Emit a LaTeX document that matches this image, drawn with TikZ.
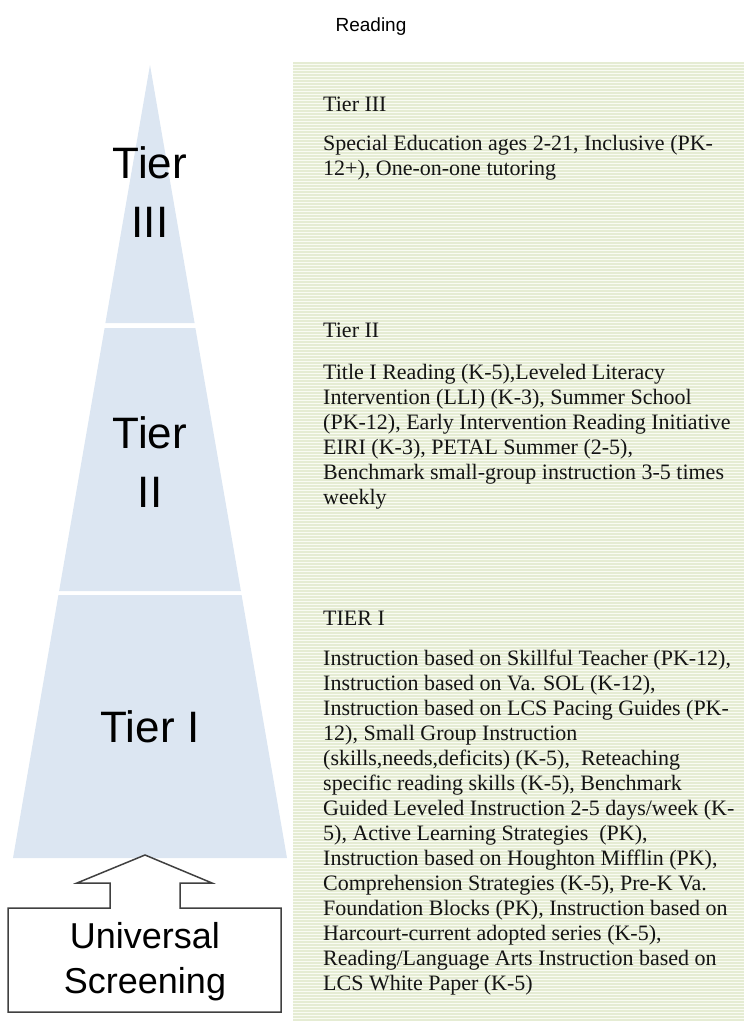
\documentclass[tikz,border=0pt]{standalone}
\usepackage{fontspec}
\setmainfont{Liberation Serif}
\setsansfont{Liberation Sans}
\usetikzlibrary{positioning}
\definecolor{pyrblue}{HTML}{DCE6F2}
\definecolor{panelgreen}{HTML}{F9FBF3}
\definecolor{panelline}{HTML}{E5ECD3}
\definecolor{boxgray}{HTML}{404040}
\tikzset{
	tiertext/.style={font=\sffamily\fontsize{44}{59}\selectfont, align=center}
}
\tikzset{
	listtext/.style={font=\rmfamily\fontsize{22}{25}\selectfont, align=left, anchor=base west, inner sep=0pt, text=black!92}
}
\tikzset{
	pyrpiece/.style={fill=pyrblue, draw=none}
}

\begin{document}
\begin{tikzpicture}[x=1pt, y=-1pt]

			\useasboundingbox (0,0) rectangle (744,1021);

			\begin{scope}
				\fill[panelgreen] (293,62) rectangle (744,1021);
				\foreach \y in {63,66,...,1020} {
						\draw[panelline, line width=1.2pt] (293,\y) -- (744,\y);
					}
			\end{scope}

			\node[font=\sffamily\fontsize{19}{23}\selectfont] (head) at (371,27) {Reading};

			\begin{scope}
				\coordinate (apex) at (150,65);
				\fill[pyrpiece] (apex) -- (194.6,323) -- (105.4,323) -- cycle;
				\fill[pyrpiece] (104.6,328) -- (195.4,328) -- (240.9,591) -- (59.1,591) -- cycle;
				\fill[pyrpiece] (58.4,595) -- (241.6,595) -- (287,858) -- (13,858) -- cycle;

				\node[tiertext] (t3) at (150,192) {Tier\\III};
				\node[tiertext] (t2) at (150,462) {Tier\\II};
				\node[tiertext] (t1) at (150,727) {Tier I};
			\end{scope}

			\draw[boxgray, fill=white, line width=1.5pt, line join=miter]
			(8,908) -- (110,908) -- (110,883) -- (77,883) -- (145,855) --
			(212,883) -- (180,883) -- (180,908) -- (281,908) --
			(281,1012) -- (8,1012) -- cycle;
			\node[font=\sffamily\fontsize{36}{45}\selectfont, align=center] (scr) at (145,962) {Universal\\Screening};

			\begin{scope}
				\node[listtext] (h3) at (323,111) {Tier III};
				\node[listtext] (b3) at (323,175) {Special Education ages 2-21, Inclusive (PK-\\12+), One-on-one tutoring};

				\node[listtext] (h2) at (323,337) {Tier II};
				\node[listtext] (b2) at (323,504) {Title I Reading (K-5),Leveled Literacy\\Intervention (LLI) (K-3), Summer School\\(PK-12), Early Intervention Reading Initiative\\EIRI (K-3), PETAL Summer (2-5),\\Benchmark small-group instruction 3-5 times\\weekly};

				\node[listtext] (h1) at (323,625) {TIER I};
				\node[listtext] (b1) at (323,990) {Instruction based on Skillful Teacher (PK-12),\\Instruction based on Va. SOL (K-12),\\Instruction based on LCS Pacing Guides (PK-\\12), Small Group Instruction\\(skills,needs,deficits) (K-5),~ Reteaching\\specific reading skills (K-5), Benchmark\\Guided Leveled Instruction 2-5 days/week (K-\\5), Active Learning Strategies~ (PK),\\Instruction based on Houghton Mifflin (PK),\\Comprehension Strategies (K-5), Pre-K Va.\\Foundation Blocks (PK), Instruction based on\\Harcourt-current adopted series (K-5),\\Reading/Language Arts Instruction based on\\LCS White Paper (K-5)};
			\end{scope}

		\end{tikzpicture}
\end{document}
